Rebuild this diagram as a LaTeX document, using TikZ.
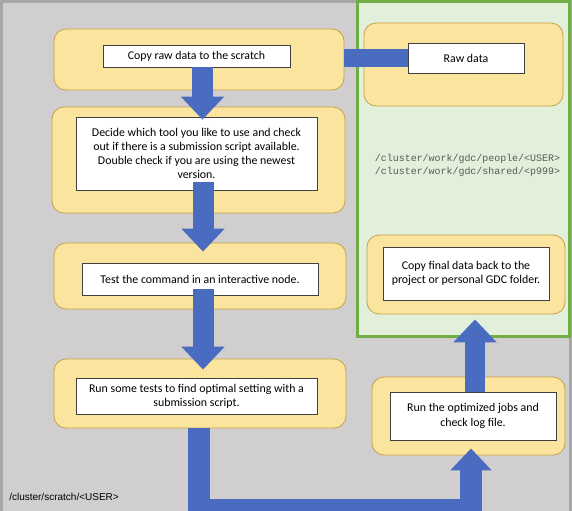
\documentclass[tikz,border=0pt]{standalone}
\usepackage{fontspec}
\setmainfont{Carlito}
\newfontfamily\monopath{Liberation Mono}
\newfontfamily\sanspath{Liberation Sans}
\usepackage{tikz}
\usetikzlibrary{positioning, calc, arrows.meta}
\definecolor{scratchgray}{HTML}{D0CECE}
\definecolor{framegray}{HTML}{A6A6A6}
\definecolor{workgreen}{HTML}{E2EFDA}
\definecolor{workborder}{HTML}{70AD47}
\definecolor{padyellow}{HTML}{FBE49E}
\definecolor{padborder}{HTML}{C4A24A}
\definecolor{flowblue}{HTML}{4A6CC0}
\tikzstyle{pad}=[rectangle, rounded corners=9pt, draw=padborder, fill=padyellow, line width=0.6pt]
\tikzstyle{task}=[rectangle, draw=black!75, fill=white, line width=0.6pt, align=center, inner sep=0pt, font=\fontsize{8.9}{10.7}\selectfont]
\tikzstyle{flow}=[line width=15.75pt, draw=flowblue, -{Triangle[width=31.5pt, length=17.25pt]}]
\tikzstyle{link}=[line width=13.5pt, draw=flowblue]
\tikzset{boxsize/.style 2 args={minimum width=#1*0.75pt, minimum height=#2*0.75pt}}

\begin{document}
\begin{tikzpicture}[x=0.75pt, y=-0.75pt]
    \useasboundingbox (0,0) rectangle (572,511);
    \begin{scope}
        \clip (0,0) rectangle (572,511);
        % Draw the areas
        \draw[framegray, fill=scratchgray, line width=2.25pt] (1.5,1.5) rectangle (570.5,540);
        \draw[workborder, fill=workgreen, line width=2.25pt] (357,1.5) rectangle (569.5,336);

        % Draw the pads
        \node[pad, boxsize={290}{61}](copy pad) at (199,59.5){};
        \node[pad, boxsize={293}{106}](decide pad) at (198.5,160){};
        \node[pad, boxsize={292}{66}](test pad) at (200,276){};
        \node[pad, boxsize={292}{69}](run tests pad) at (200,393.5){};
        \node[pad, boxsize={199}{83}](raw data pad) at (463.5,64.5){};
        \node[pad, boxsize={198}{79}](copy back pad) at (466,274.5){};
        \node[pad, boxsize={193}{78}](run jobs pad) at (468.5,416){};

        % Draw the tasks
        \node[task, boxsize={187}{22}](copy) at (196.5,56){Copy raw data to the scratch};
        \node[task, boxsize={241}{73}](decide) at (196.5,153.5){Decide which tool you like to use and check \\ out if there is a submission script available. \\ Double check if you are using the newest \\ version.};
        \node[task, boxsize={236}{32}](test) at (200,279){Test the command in an interactive node.};
        \node[task, boxsize={241}{36}](run tests) at (196.5,396){Run some tests to find optimal setting with a \\ submission script.};
        \node[task, boxsize={116}{30}](raw data) at (466,58){Raw data};
        \node[task, boxsize={166}{53}](copy back) at (466,273.5){Copy final data back to the \\ project or personal GDC folder.};
        \node[task, boxsize={166}{48}](run jobs) at (473,416){Run the optimized jobs and \\ check log file.};

        % Paths
        \node[font=\monopath\fontsize{7.46}{9.75}\selectfont, text=black!65, align=center](work path) at (467.5,165.5){/cluster/work/gdc/people/<USER> \\ /cluster/work/gdc/shared/<p999>};
        \node[font=\sanspath\fontsize{7.5}{9}\selectfont, anchor=base west, inner sep=0pt](scratch path) at (9,500){/cluster/scratch/<USER>};

        % Draw the connectors
        \draw[link] (copy pad.east |- raw data.west) -- (raw data.west);
        \draw[flow] ($(copy.south)+(6,0)$) -- ($(decide.north)+(6,3)$);
        \draw[flow] ($(decide.south)+(6.5,-8)$) -- ($(test.north)+(3,-11)$);
        \draw[flow] ($(test.south)+(3,-6)$) -- ($(run tests.north)+(6.5,-8)$);
        \coordinate (bend) at (471,510);
        \draw[flow, line width=16.5pt, -{Triangle[width=30pt, length=16.5pt]}] ($(run tests pad.south)+(-1.5,0)$) |- (bend) -- ($(run jobs pad.south)+(2.5,-7)$);
        \draw[flow, line width=15pt] ($(run jobs.north)+(2,0)$) -- ($(copy back pad.south)+(9,5)$);
    \end{scope}
\end{tikzpicture}
\end{document}
